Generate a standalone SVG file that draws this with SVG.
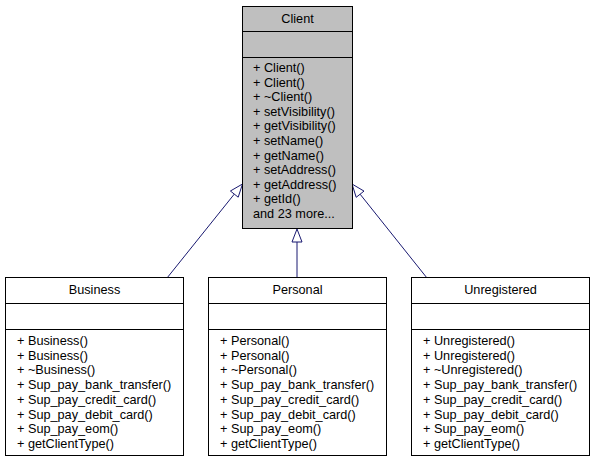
<svg xmlns="http://www.w3.org/2000/svg" width="595" height="463" viewBox="0 0 595 463">
<style>
.box{stroke:#000;stroke-width:1}
.g{fill:#bfbfbf}
.w{fill:#fff}
text{font-family:"Liberation Sans",Arial,sans-serif;font-size:12.7px;fill:#000}
.c{text-anchor:middle}
.e{stroke:#191970;stroke-width:1;fill:none}
.ah{stroke:#191970;stroke-width:1;fill:#fff}
</style>
<rect width="595" height="463" fill="#fff"/>
<g id="edges">
<line class="e" x1="167" y1="278" x2="234.3" y2="194.1"/>
<polygon class="ah" points="242.5,184 238.2,197.2 230.4,191"/>
<line class="e" x1="297" y1="278" x2="297" y2="242"/>
<polygon class="ah" points="297,229 302,242 292,242"/>
<line class="e" x1="427" y1="278" x2="360.1" y2="194.2"/>
<polygon class="ah" points="352,184 364,191.1 356.2,197.3"/>
</g>
<g id="Client">
<rect class="box g" x="242.5" y="6.5" width="110" height="222"/>
<line class="box" x1="242.5" y1="31.5" x2="352.5" y2="31.5"/>
<line class="box" x1="242.5" y1="57.5" x2="352.5" y2="57.5"/>
<text class="c" x="297.5" y="23">Client</text>
<text x="253" y="72">+ Client()</text>
<text x="253" y="86.6">+ Client()</text>
<text x="253" y="101.2">+ ~Client()</text>
<text x="253" y="115.8">+ setVisibility()</text>
<text x="253" y="130.4">+ getVisibility()</text>
<text x="253" y="145">+ setName()</text>
<text x="253" y="159.6">+ getName()</text>
<text x="253" y="174.2">+ setAddress()</text>
<text x="253" y="188.8">+ getAddress()</text>
<text x="253" y="203.4">+ getId()</text>
<text x="253" y="218">and 23 more...</text>
</g>
<g id="Business">
<rect class="box w" x="5.5" y="277.5" width="178" height="178"/>
<line class="box" x1="5.5" y1="303.5" x2="183.5" y2="303.5"/>
<line class="box" x1="5.5" y1="329.5" x2="183.5" y2="329.5"/>
<text class="c" x="94.5" y="294">Business</text>
<text x="17" y="345">+ Business()</text>
<text x="17" y="359.7">+ Business()</text>
<text x="17" y="374.4">+ ~Business()</text>
<text x="17" y="389.1">+ Sup_pay_bank_transfer()</text>
<text x="17" y="403.8">+ Sup_pay_credit_card()</text>
<text x="17" y="418.5">+ Sup_pay_debit_card()</text>
<text x="17" y="433.2">+ Sup_pay_eom()</text>
<text x="17" y="447.9">+ getClientType()</text>
</g>
<g id="Personal">
<rect class="box w" x="208.5" y="277.5" width="178" height="178"/>
<line class="box" x1="208.5" y1="303.5" x2="386.5" y2="303.5"/>
<line class="box" x1="208.5" y1="329.5" x2="386.5" y2="329.5"/>
<text class="c" x="297.5" y="294">Personal</text>
<text x="220" y="345">+ Personal()</text>
<text x="220" y="359.7">+ Personal()</text>
<text x="220" y="374.4">+ ~Personal()</text>
<text x="220" y="389.1">+ Sup_pay_bank_transfer()</text>
<text x="220" y="403.8">+ Sup_pay_credit_card()</text>
<text x="220" y="418.5">+ Sup_pay_debit_card()</text>
<text x="220" y="433.2">+ Sup_pay_eom()</text>
<text x="220" y="447.9">+ getClientType()</text>
</g>
<g id="Unregistered">
<rect class="box w" x="411.5" y="277.5" width="178" height="178"/>
<line class="box" x1="411.5" y1="303.5" x2="589.5" y2="303.5"/>
<line class="box" x1="411.5" y1="329.5" x2="589.5" y2="329.5"/>
<text class="c" x="500.5" y="294">Unregistered</text>
<text x="423" y="345">+ Unregistered()</text>
<text x="423" y="359.7">+ Unregistered()</text>
<text x="423" y="374.4">+ ~Unregistered()</text>
<text x="423" y="389.1">+ Sup_pay_bank_transfer()</text>
<text x="423" y="403.8">+ Sup_pay_credit_card()</text>
<text x="423" y="418.5">+ Sup_pay_debit_card()</text>
<text x="423" y="433.2">+ Sup_pay_eom()</text>
<text x="423" y="447.9">+ getClientType()</text>
</g>
</svg>
